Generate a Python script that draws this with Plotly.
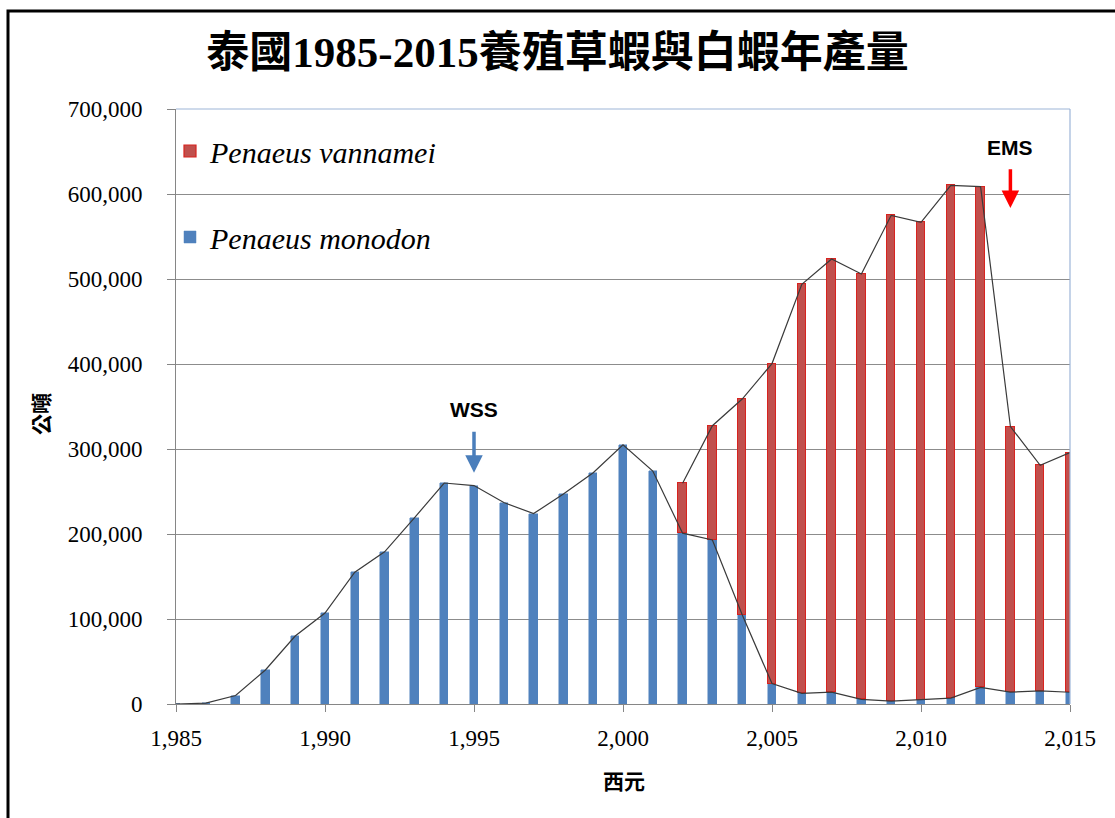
import plotly.graph_objects as go

# Annual farmed shrimp production in Thailand (metric tons)
years = list(range(1985, 2016))
monodon = [0, 1000, 10000, 40000, 80000, 107000, 155000, 179000, 219000, 260000,
           257000, 237000, 224000, 247000, 272000, 305000, 274000, 201000, 193000, 105000,
           24000, 12500, 14000, 5500, 3500, 5000, 7000, 19500, 14000, 15500, 13800]
vannamei = [None] * 17 + [58600, 134400, 253800,
                          376500, 481200, 509500, 500400, 571400, 561700, 603200,
                          589100, 312400, 265300, 282000]

y_ticks = list(range(0, 700001, 100000))

# Combined output, traced from the first year white shrimp appears
total_years = [yr for yr, v in zip(years, vannamei) if v]
total_vals = [m + v for m, v in zip(monodon, vannamei) if v]

BLUE = "#4F81BD"
RED = "#C0504D"
SERIF = "Liberation Serif, Times New Roman, serif"
CJK = "Liberation Serif, Noto Sans CJK TC, serif"

fig = go.Figure()

fig.add_trace(go.Bar(
    x=years, y=monodon, name="Penaeus monodon", width=0.28,
    marker=dict(color=BLUE, line=dict(color=BLUE, width=0.5)),
    legend="legend2",
))
fig.add_trace(go.Bar(
    x=years, y=vannamei, name="Penaeus vannamei", width=0.28,
    marker=dict(color=RED, line=dict(color="#D8231F", width=1.2)),
    legend="legend",
))
fig.add_trace(go.Scatter(
    x=years, y=monodon, mode="lines", showlegend=False,
    line=dict(color="#3a3a3a", width=1.2),
))
fig.add_trace(go.Scatter(
    x=total_years, y=total_vals, mode="lines", showlegend=False,
    line=dict(color="#3a3a3a", width=1.2),
))

PX_L, PX_R, PX_T, PX_B = 176, 1070, 109, 704
W, H = 1115, 818


def px_x(p):
    return (p - PX_L) / (PX_R - PX_L)


def px_y(p):
    return (PX_B - p) / (PX_B - PX_T)


legend_common = dict(
    bgcolor="rgba(0,0,0,0)", borderwidth=0, xanchor="left", yanchor="middle",
    font=dict(family=SERIF, size=30, color="#000", style="italic"),
    itemwidth=30,
)

fig.update_layout(
    width=W, height=H,
    margin=dict(l=PX_L, r=W - PX_R, t=PX_T, b=H - PX_B),
    paper_bgcolor="white", plot_bgcolor="white",
    barmode="stack", bargap=0,
    title=dict(
        text="<b>泰國1985-2015養殖草蝦與白蝦年產量</b>",
        font=dict(family=CJK, size=43, color="#000"),
        x=0.5, xref="container", xanchor="center",
        y=1 - 52 / H, yref="container", yanchor="middle",
    ),
    legend=dict(x=px_x(170), y=px_y(151), **legend_common),
    legend2=dict(x=px_x(170), y=px_y(237), **legend_common),
    xaxis=dict(
        range=[1985, 2015], tick0=1985, dtick=5, tickformat=",",
        showgrid=False, zeroline=False,
        showline=True, linecolor="#868686", linewidth=1,
        ticks="outside", ticklen=7, tickcolor="#868686",
        ticklabelstandoff=6,
        tickfont=dict(family=SERIF, size=23, color="#000"),
    ),
    yaxis=dict(
        range=[0, 700000], tickvals=y_ticks, tickformat=",",
        showgrid=True, gridcolor="#8c8c8c", gridwidth=1,
        zeroline=False,
        showline=True, linecolor="#868686", linewidth=1,
        ticks="outside", ticklen=8, tickcolor="#868686",
        ticklabelstandoff=20,
        tickfont=dict(family=SERIF, size=23, color="#000"),
    ),
    shapes=[
        # plot-area border along the top and right
        dict(type="line", xref="paper", yref="paper", x0=0, x1=1, y0=1, y1=1,
             line=dict(color="#9db5d8", width=1.2)),
        dict(type="line", xref="paper", yref="paper", x0=1, x1=1, y0=0, y1=1,
             line=dict(color="#9db5d8", width=1.2)),
        # outer frame around the chart
        dict(type="rect", xref="paper", yref="paper",
             x0=px_x(8), x1=px_x(1125), y0=px_y(826), y1=px_y(11),
             line=dict(color="#000", width=3), fillcolor="rgba(0,0,0,0)"),
    ],
    annotations=[
        dict(text="<b>公噸</b>", xref="paper", yref="paper",
             x=px_x(40), y=px_y(414), showarrow=False, textangle=-90,
             font=dict(family="Noto Sans CJK TC", size=21, color="#000"),
             xanchor="center", yanchor="middle"),
        dict(text="<b>西元</b>", xref="paper", yref="paper",
             x=px_x(624), y=px_y(780), showarrow=False,
             font=dict(family="Noto Sans CJK TC", size=21, color="#000"),
             xanchor="center", yanchor="middle"),
        # WSS outbreak marker
        dict(text="", x=1995, y=272000, ax=1995, ay=322000, axref="x", ayref="y",
             showarrow=True, arrowhead=2, arrowsize=1, arrowwidth=3.5,
             arrowcolor="#4A7EBB"),
        dict(text="<b>WSS</b>", x=1995, y=346000, showarrow=False,
             font=dict(family="Liberation Sans, Arial, sans-serif", size=21, color="#000"),
             xanchor="center", yanchor="middle"),
        # EMS outbreak marker
        dict(text="", x=2013, y=583500, ax=2013, ay=631000, axref="x", ayref="y",
             showarrow=True, arrowhead=2, arrowsize=1, arrowwidth=3.5,
             arrowcolor="#FF0000"),
        dict(text="<b>EMS</b>", x=2013, y=655000, showarrow=False,
             font=dict(family="Liberation Sans, Arial, sans-serif", size=21, color="#000"),
             xanchor="center", yanchor="middle"),
    ],
)

fig.write_html("out.html")
